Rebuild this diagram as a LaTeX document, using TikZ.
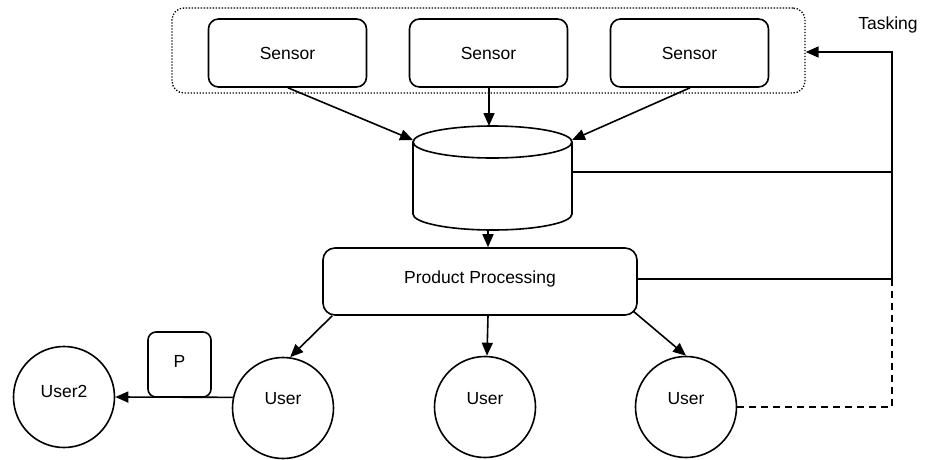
\documentclass[tikz,border=0pt]{standalone}
\usepackage{fontspec}
\setmainfont{Liberation Sans}
\usetikzlibrary{arrows.meta,calc}
\begin{document}
\begin{tikzpicture}[x=1pt,y=-1pt,
  line width=1.6pt,
  font=\fontsize{17.5}{20}\selectfont,
  arr/.style={-{Triangle[length=13pt,width=11pt]}},
  sensorbox/.style={draw,rounded corners=10pt,minimum width=158pt,minimum height=68pt,inner sep=0pt},
  userc/.style={draw,circle,minimum size=101pt,inner sep=0pt},
  dashline/.style={dash pattern=on 7pt off 5pt}
]
\useasboundingbox (0,0) rectangle (927,459);
% dotted container
\node[draw,line width=1.3pt,dash pattern=on 1.3pt off 1.7pt,rounded corners=12pt,
      minimum width=633pt,minimum height=85pt,inner sep=0pt] (grp) at (488.5,50.5) {};
% sensors
\node[sensorbox] (s1) at (287.5,53) {Sensor};
\node[sensorbox] (s2) at (488.5,53) {Sensor};
\node[sensorbox] (s3) at (689.5,53) {Sensor};
% cylinder
\node[minimum width=159pt,minimum height=104pt,inner sep=0pt] (db) at (492.5,178) {};
\draw (413,142) -- (413,214) arc[start angle=180,end angle=360,x radius=79.5,y radius=-16] -- (572,142);
\draw (492.5,142) ellipse [x radius=79.5,y radius=16];
\coordinate (dbtl) at (413,140);
\coordinate (dbtr) at (572,140);
\coordinate (dbt) at (489,126);
\coordinate (dbb) at (488,230);
\coordinate (dbr) at (572,172);
% product processing
\node[draw,rounded corners=12pt,minimum width=314pt,minimum height=67pt,inner sep=0pt,
      text depth=0pt] (pp) at (480,281.5) {\raisebox{8pt}{Product Processing}};
% users
\node[userc] (u1) at (283,408) {};
\node at (283,399) {User};
\node[userc] (u2) at (485,407) {};
\node at (485,399) {User};
\node[userc] (u3) at (686,407) {};
\node at (686,399) {User};
\node[userc] (u0) at (64,397) {};
\node at (64,391) {User2};
\node[draw,rounded corners=8pt,minimum width=63pt,minimum height=65pt,inner sep=0pt] (p) at (179.5,364.5) {};
\node at (179.5,361) {P};
% tasking
\node (task) at (888,25) {Tasking};
\coordinate (tk) at (892,52);
\coordinate (tp) at (892,279);
\coordinate (tu) at (892,407);
% connectors
\draw[arr] ($(s1.south)+(0.5,0)$) -- (dbtl);
\draw[arr] ($(s2.south)+(0.5,0)$) -- (dbt);
\draw[arr] ($(s3.south)+(0.5,0)$) -- (dbtr);
\draw[arr] (dbb) -- (dbb |- pp.north);
\draw[arr] ($(pp.south west)+(10,0)$) -- (u1.82);
\draw[arr] ($(pp.south)+(8,0)$) -- ($(u2.north)+(2,0)$);
\draw[arr] ($(pp.south east)+(-5,-5)$) -- (u3.north);
\draw[arr] (u1.168) -- (u0.east);
\draw (dbr) -- (dbr -| tk);
\draw (pp.east |- tp) -- (tp);
\draw[arr] (tp) -- (tk) -- (grp.east |- tk);
\draw[dashline] (u3.east) -- (tu) -- (tk);
\end{tikzpicture}
\end{document}
